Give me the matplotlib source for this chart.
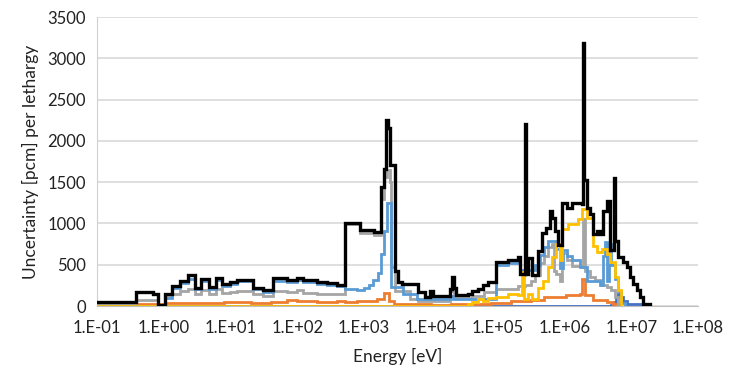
import numpy as np
import matplotlib
matplotlib.use("Agg")
import matplotlib.pyplot as plt

plt.rcParams['font.family'] = ['Lato', 'DejaVu Sans']

# step data: log10(energy [eV]) where each step starts, and its value [pcm per lethargy]
black_logE = [-1.00, -0.41, -0.16, -0.08, 0.02, 0.13, 0.25, 0.37, 0.47, 0.56, 0.67, 0.78, 0.87,
              0.99, 1.09, 1.34, 1.49, 1.64, 1.84, 1.99, 2.09, 2.29, 2.45, 2.60, 2.71, 2.94,
              3.15, 3.25, 3.30, 3.33, 3.36, 3.38, 3.46, 3.51, 3.56, 3.81, 3.91, 3.99, 4.03,
              4.28, 4.31, 4.35, 4.38, 4.55, 4.62, 4.70, 4.78, 4.85, 4.98, 5.15, 5.30, 5.33,
              5.41, 5.43, 5.46, 5.52, 5.60, 5.66, 5.73, 5.79, 5.82, 5.86, 5.90, 5.97, 6.04,
              6.11, 6.27, 6.28, 6.30, 6.33, 6.38, 6.43, 6.49, 6.53, 6.57, 6.63, 6.68, 6.74,
              6.76, 6.80, 6.87, 6.93, 6.98, 7.02, 7.08, 7.13, 7.17, 7.28]
black_val = [50, 165, 140, 10, 140, 245, 305, 375, 215, 330, 230, 345, 265,
             295, 320, 215, 195, 335, 315, 345, 315, 295, 280, 260, 1000, 920,
             900, 1440, 1660, 2250, 2150, 1710, 430, 285, 265, 165, 105, 185, 125,
             200, 350, 220, 135, 150, 180, 210, 250, 290, 530, 555, 590, 390,
             2210, 390, 580, 370, 670, 880, 950, 1150, 1070, 910, 740, 1250, 1190,
             1250, 1230, 3190, 1520, 1190, 1110, 870, 910, 870, 1150, 1270, 680, 1550,
             790, 590, 530, 470, 350, 270, 190, 110, 30, 0]

blue_logE = [-1.00, 0.02, 0.13, 0.25, 0.37, 0.47, 0.56, 0.67, 0.78, 0.87, 0.99, 1.09, 1.34,
             1.49, 1.64, 1.84, 1.99, 2.09, 2.29, 2.45, 2.60, 2.71, 2.90, 3.00, 3.08, 3.14,
             3.21, 3.26, 3.30, 3.34, 3.40, 3.58, 3.79, 4.28, 4.33, 4.98, 5.15, 5.30, 5.33,
             5.56, 5.63, 5.69, 5.75, 5.87, 5.93, 5.98, 6.04, 6.11, 6.23, 6.34, 6.53, 6.57,
             6.60, 6.63, 6.66, 6.70, 6.75, 6.80, 6.85, 6.90]
blue_val = [0, 100, 215, 280, 330, 200, 300, 210, 315, 245, 270, 300, 200,
            175, 300, 285, 310, 285, 270, 255, 240, 205, 195, 215, 250, 320,
            400, 630, 910, 1250, 230, 150, 90, 120, 90, 500, 520, 540, 440,
            500, 620, 720, 790, 690, 460, 680, 600, 560, 470, 300, 250, 600,
            780, 300, 750, 500, 330, 180, 40, 0]

gray_logE = [-1.00, -0.41, -0.08, 0.02, 0.13, 0.25, 0.37, 0.47, 0.56, 0.67, 0.78, 0.87, 0.99,
             1.09, 1.34, 1.49, 1.64, 1.84, 1.99, 2.09, 2.29, 2.45, 2.60, 2.71, 2.94, 3.15,
             3.25, 3.30, 3.34, 3.38, 3.40, 3.46, 3.69, 3.80, 4.28, 4.35, 4.62, 4.80, 4.98,
             5.15, 5.30, 5.41, 5.50, 5.56, 5.63, 5.69, 5.75, 5.81, 5.84, 5.87, 5.93, 5.97,
             6.04, 6.11, 6.27, 6.28, 6.31, 6.38, 6.45, 6.55, 6.63, 6.70, 6.75, 6.80]
gray_val = [15, 75, 5, 110, 150, 180, 200, 140, 190, 150, 200, 160, 170,
            180, 140, 120, 180, 170, 190, 160, 150, 145, 140, 990, 890, 860,
            1300, 1560, 1650, 1500, 470, 180, 90, 60, 180, 100, 120, 170, 200,
            210, 240, 260, 300, 380, 520, 600, 720, 750, 430, 390, 300, 640,
            560, 480, 470, 1050, 430, 350, 310, 250, 230, 190, 110, 0]

orange_logE = [-1.00, -0.41, -0.08, 0.02, 0.50, 0.90, 1.30, 1.60, 1.84, 2.00, 2.30, 2.60, 2.71,
               2.90, 3.10, 3.20, 3.30, 3.37, 3.45, 3.60, 4.00, 4.30, 4.50, 4.90, 5.20, 5.50,
               5.70, 5.93, 6.03, 6.23, 6.27, 6.31, 6.43, 6.63, 6.73, 6.83]
orange_val = [0, 30, 20, 40, 35, 50, 40, 45, 75, 55, 45, 55, 45,
              60, 55, 80, 160, 60, 25, 20, 15, 30, 20, 40, 60, 70,
              110, 115, 130, 150, 330, 130, 75, 50, 30, 0]

yellow_logE = [-1.00, 4.55, 4.62, 4.70, 4.78, 4.85, 4.98, 5.15, 5.30, 5.36, 5.40, 5.45, 5.52,
               5.60, 5.68, 5.75, 5.81, 5.87, 5.93, 5.97, 6.05, 6.20, 6.27, 6.33, 6.43, 6.49,
               6.56, 6.63, 6.68, 6.75, 6.80, 6.85]
yellow_val = [0, 30, 50, 80, 60, 100, 110, 140, 130, 410, 90, 140, 80,
              220, 300, 470, 590, 750, 560, 930, 990, 1050, 1180, 1060, 730, 650,
              690, 630, 530, 350, 190, 0]

dblue_logE = [-1.00, 6.70, 6.74, 6.77, 6.80, 6.84, 6.88, 6.93, 7.28]
dblue_val = [0, 10, 50, 110, 150, 110, 60, 25, 0]

xtick_labels = ["1.E-01", "1.E+00", "1.E+01", "1.E+02", "1.E+03",
                "1.E+04", "1.E+05", "1.E+06", "1.E+07", "1.E+08"]

fig = plt.figure(figsize=(7.36, 3.77), dpi=100)
ax = fig.add_axes([0.1318, 0.1883, 0.8166, 0.7666])

series = [
    (dblue_logE, dblue_val, "#4472C4", 2.0),
    (orange_logE, orange_val, "#ED7D31", 2.0),
    (gray_logE, gray_val, "#A5A5A5", 2.0),
    (blue_logE, blue_val, "#5B9BD5", 2.0),
    (yellow_logE, yellow_val, "#FFC000", 2.0),
    (black_logE, black_val, "#000000", 2.4),
]
for logE, val, col, lw in series:
    ax.plot(10 ** np.array(logE), val, drawstyle="steps-post", color=col, lw=lw,
            solid_joinstyle="miter", zorder=3)

ax.set_xscale("log")
ax.set_xlim(1e-1, 1e8)
ax.set_ylim(0, 3500)
ax.set_xticks(10.0 ** np.arange(-1, 9))
ax.set_xticklabels(xtick_labels)
ax.minorticks_off()
ax.set_yticks(np.arange(0, 3501, 500))
ax.tick_params(length=0, labelsize=12, colors="#222222", pad=8)
ax.tick_params(axis="x", pad=10)

ax.grid(axis="y", color="#D9D9D9", lw=1.2)
ax.set_axisbelow(True)
for s in ["top", "right"]:
    ax.spines[s].set_visible(False)
ax.spines["left"].set_color("#D0D0D0")
ax.spines["bottom"].set_color("#BFBFBF")

ax.set_xlabel("Energy [eV]", fontsize=12.5, color="#222222", labelpad=9)
ax.set_ylabel("Uncertainty [pcm] per lethargy", fontsize=12.5, color="#222222", labelpad=6)

fig.savefig("out.png", dpi=100)
